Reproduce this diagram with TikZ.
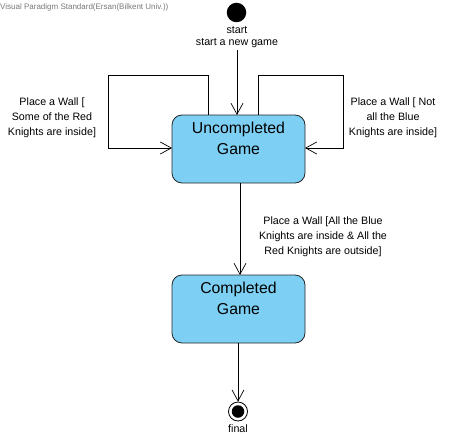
\documentclass[tikz,border=0pt]{standalone}
\usepackage{fontspec}
\setmainfont{Liberation Sans}
\usetikzlibrary{arrows.meta}
\definecolor{statefill}{RGB}{125,208,244}
\definecolor{hdr}{RGB}{120,120,120}
\tikzset{
  statebox/.style={draw=black!85, line width=0.8pt, fill=statefill, rounded corners=10pt, inner sep=0pt},
  trans/.style={draw=black, line width=0.7pt, -{Straight Barb[length=11pt,width=12pt,line width=0.7pt]}},
  lbl/.style={font=\fontsize{10.7}{15}\selectfont, align=center, inner sep=0pt},
  small/.style={font=\fontsize{10.7}{12}\selectfont, inner sep=0pt},
  sname/.style={font=\fontsize{15.8}{21}\selectfont, align=center, inner sep=0pt}
}
\begin{document}
\begin{tikzpicture}[x=1pt,y=-1pt]
\useasboundingbox (0,0) rectangle (449,441);
\node[anchor=west, inner sep=0pt, text=hdr, font=\fontsize{8}{9}\selectfont] (hdr) at (0,7) {Visual Paradigm Standard(Ersan(Bilkent Univ.))};
% initial
\node[circle, fill=black, minimum size=19.5pt, inner sep=0pt] (init) at (236.5,12.5) {};
\node[small] (startlbl) at (237,30) {start};
\node[small] (startact) at (237,43.5) {start a new game};
\coordinate (s0) at (237,50);
% states
\path[statebox] (172,115) rectangle (305,183);
\node[minimum width=133pt, minimum height=68pt, inner sep=0pt] (unc) at (238.5,149) {};
\node[sname] (unct) at (238.5,138) {Uncompleted\\Game};
\path[statebox] (172,275) rectangle (305,343);
\node[minimum width=133pt, minimum height=68pt, inner sep=0pt] (comp) at (238.5,309) {};
\node[sname] (compt) at (238.5,298) {Completed\\Game};
% final
\node[circle, draw=black, line width=0.8pt, minimum size=19pt, inner sep=0pt] (fin) at (238,411.5) {};
\node[circle, fill=black, minimum size=12.5pt, inner sep=0pt] (finin) at (238,411.5) {};
\node[small] (finlbl) at (238,429) {final};
% transitions
\draw[trans] (s0) -- (237,115);
\draw[trans] (208,115) -- (208,75) -- (108,75) -- (108,148) -- (172,148);
\draw[trans] (258,115) -- (258,75) -- (343,75) -- (343,148) -- (305,148);
\draw[trans] (240,183) -- (240,275);
\draw[trans] (238,343) -- (fin.north);
% labels
\node[lbl] (l1) at (52,117.5) {Place a Wall [\\Some of the Red\\Knights are inside]};
\node[lbl] (l2) at (393,117.5) {Place a Wall [ Not\\all the Blue\\Knights are inside]};
\node[lbl] (l3) at (323,236.5) {Place a Wall [All the Blue\\Knights are inside \& All the\\Red Knights are outside]};
\end{tikzpicture}
\end{document}
